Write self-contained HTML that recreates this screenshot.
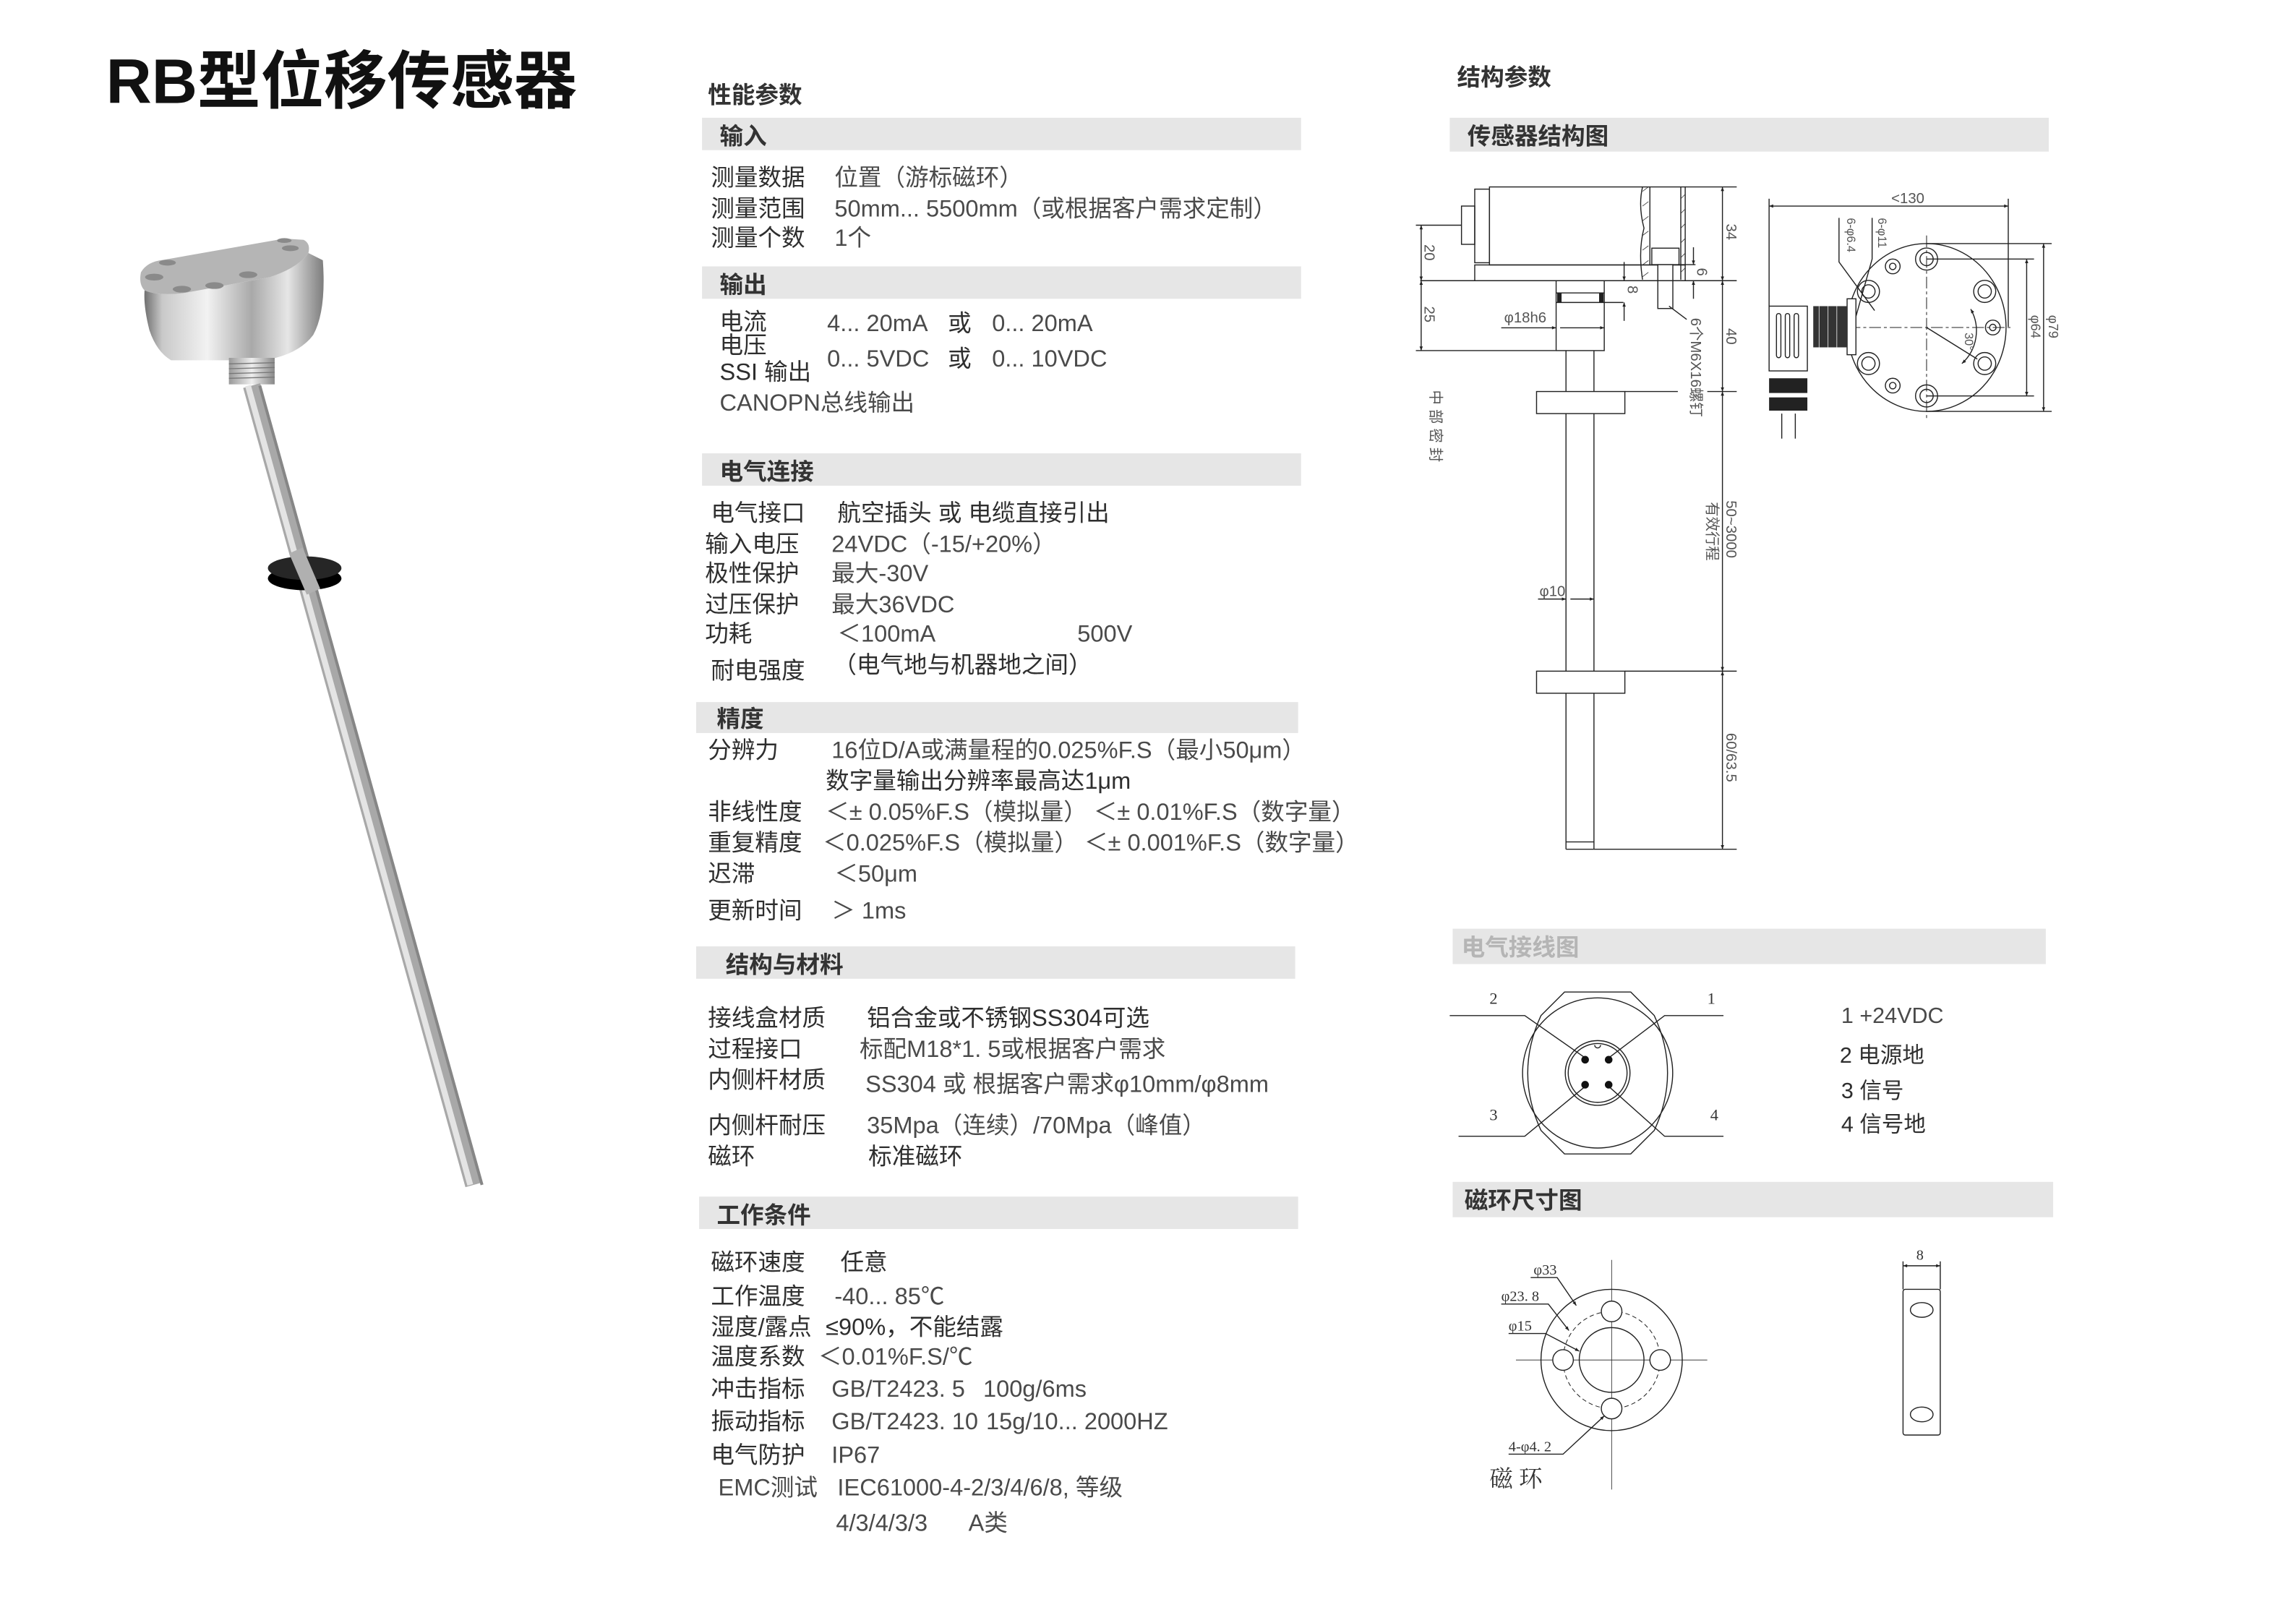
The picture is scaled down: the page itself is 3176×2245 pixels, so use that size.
<!DOCTYPE html>
<html><head><meta charset="utf-8"><style>
html,body{margin:0;padding:0;background:#fff;}
svg{display:block;}
.l{font-family:"Liberation Sans","Noto Sans CJK SC",sans-serif;font-size:16px;fill:#2e2e2e;}
.v{font-family:"Liberation Sans","Noto Sans CJK SC",sans-serif;font-size:16px;fill:#4a4a4a;}
.h{font-family:"Liberation Sans","Noto Sans CJK SC",sans-serif;font-size:16px;font-weight:bold;fill:#333;}
.d{font-family:"Liberation Sans","Noto Sans CJK SC",sans-serif;font-size:10px;fill:#555;}
.s{font-family:"Liberation Serif","Noto Serif CJK SC",serif;font-size:11px;fill:#333;}
</style></head><body>
<svg width="3176" height="2245" viewBox="0 0 1560 1102.7" xmlns="http://www.w3.org/2000/svg">
<defs>
<marker id="ar" viewBox="0 0 10 10" refX="10" refY="5" markerWidth="6" markerHeight="4" orient="auto-start-reverse"><path d="M0,1L10,5L0,9Z" fill="#222"/></marker>
<linearGradient id="hg" x1="0" y1="0" x2="1" y2="0"><stop offset="0" stop-color="#6f6f6f"/><stop offset="0.1" stop-color="#c9c9c9"/><stop offset="0.35" stop-color="#f2f2f2"/><stop offset="0.6" stop-color="#a9a9a9"/><stop offset="0.8" stop-color="#e6e6e6"/><stop offset="1" stop-color="#7d7d7d"/></linearGradient>
<linearGradient id="tg" x1="0" y1="0" x2="1" y2="0"><stop offset="0" stop-color="#999"/><stop offset="0.5" stop-color="#eee"/><stop offset="1" stop-color="#888"/></linearGradient>
</defs>

<text x="72" y="70" style="font-family:'Liberation Sans','Noto Sans CJK SC',sans-serif;font-size:43px;font-weight:bold;fill:#111">RB型位移传感器</text>

<!-- Sensor photo -->
<g transform="translate(88.4,162.1) scale(0.1637)">
<path d="M60,215 Q120,240 230,225 L580,160 Q700,120 740,60 L800,90 Q815,300 760,400 Q700,480 560,505 L170,505 Q110,470 80,380 Q55,280 60,215 Z" fill="url(#hg)"/>
<path d="M45,140 Q70,95 140,88 L640,0 L720,5 Q750,20 740,60 Q700,120 580,160 L230,225 Q120,240 60,215 Q35,190 45,140 Z" fill="#b5b5b5"/>
<g fill="#8a8a8a"><ellipse cx="100" cy="160" rx="38" ry="14"/><ellipse cx="155" cy="100" rx="35" ry="12"/><ellipse cx="215" cy="210" rx="38" ry="14"/><ellipse cx="350" cy="195" rx="38" ry="14"/><ellipse cx="490" cy="150" rx="38" ry="14"/><ellipse cx="640" cy="8" rx="30" ry="10"/><ellipse cx="665" cy="40" rx="35" ry="12"/></g>
<rect x="410" y="495" width="190" height="110" fill="url(#tg)"/>
<g stroke="#777" stroke-width="4"><line x1="410" y1="520" x2="600" y2="515"/><line x1="410" y1="540" x2="600" y2="535"/><line x1="410" y1="560" x2="600" y2="555"/><line x1="410" y1="580" x2="600" y2="575"/></g>
</g>
<line x1="171" y1="262" x2="322" y2="805" stroke="#a8a8a8" stroke-width="12"/>
<line x1="168.5" y1="262" x2="319.5" y2="805" stroke="#e4e4e4" stroke-width="4"/>
<line x1="176.5" y1="262" x2="327.5" y2="805" stroke="#868686" stroke-width="2"/>
<ellipse cx="207" cy="393" rx="25" ry="8" fill="#000"/>
<ellipse cx="207" cy="386" rx="25" ry="8" fill="#262626"/>
<line x1="201" y1="374" x2="213" y2="402" stroke="#b0b0b0" stroke-width="10"/>

<!-- Left spec column -->
<text x="481" y="70" class="h">性能参数</text>
<g fill="#e6e6e6">
<rect x="477" y="80" width="407" height="22"/>
<rect x="477" y="181" width="407" height="22"/>
<rect x="477" y="308" width="407" height="22"/>
<rect x="473" y="477" width="409" height="21"/>
<rect x="473" y="643" width="407" height="22"/>
<rect x="475" y="813" width="407" height="22"/>
<rect x="985" y="80" width="407" height="23"/>
<rect x="987" y="631" width="403" height="24"/>
<rect x="987" y="803" width="408" height="24"/>
</g>
<text x="489" y="98" class="h">输入</text>
<text x="483" y="126" class="l">测量数据</text><text x="567" y="126" class="v">位置（游标磁环）</text>
<text x="483" y="147" class="l">测量范围</text><text x="567" y="147" class="v">50mm... 5500mm（或根据客户需求定制）</text>
<text x="483" y="167" class="l">测量个数</text><text x="567" y="167" class="v">1个</text>

<text x="489" y="199" class="h">输出</text>
<text x="489" y="224" class="l">电流</text>
<text x="489" y="240" class="l">电压</text>
<text x="489" y="258" class="l">SSI 输出</text>
<text x="489" y="279" class="v">CANOPN总线输出</text>
<text x="562" y="225" class="v">4... 20mA</text><text x="644" y="225" class="l">或</text><text x="674" y="225" class="v">0... 20mA</text>
<text x="562" y="249" class="v">0... 5VDC</text><text x="644" y="249" class="l">或</text><text x="674" y="249" class="v">0... 10VDC</text>

<text x="489" y="326" class="h">电气连接</text>
<text x="483" y="354" class="l">电气接口</text><text x="569" y="354" class="l">航空插头 或 电缆直接引出</text>
<text x="479" y="375" class="l">输入电压</text><text x="565" y="375" class="v">24VDC（-15/+20%）</text>
<text x="479" y="395" class="l">极性保护</text><text x="565" y="395" class="v">最大-30V</text>
<text x="479" y="416" class="l">过压保护</text><text x="565" y="416" class="v">最大36VDC</text>
<text x="479" y="436" class="l">功耗</text><text x="569" y="436" class="v">＜100mA</text><text x="732" y="436" class="v">500V</text>
<text x="483" y="461" class="l">耐电强度</text><text x="566" y="457" class="l">（电气地与机器地之间）</text>

<text x="487" y="494" class="h">精度</text>
<text x="481" y="515" class="l">分辨力</text><text x="565" y="515" class="v">16位D/A或满量程的0.025%F.S（最小50μm）</text>
<text x="561" y="536" class="l">数字量输出分辨率最高达1μm</text>
<text x="481" y="557" class="l">非线性度</text><text x="561" y="557" class="v">＜± 0.05%F.S（模拟量） ＜± 0.01%F.S（数字量）</text>
<text x="481" y="578" class="l">重复精度</text><text x="559" y="578" class="v">＜0.025%F.S（模拟量） ＜± 0.001%F.S（数字量）</text>
<text x="481" y="599" class="l">迟滞</text><text x="567" y="599" class="v">＜50μm</text>
<text x="481" y="624" class="l">更新时间</text><text x="565" y="624" class="v">＞ 1ms</text>

<text x="493" y="661" class="h">结构与材料</text>
<text x="481" y="697" class="l">接线盒材质</text><text x="589" y="697" class="l">铝合金或不锈钢SS304可选</text>
<text x="481" y="718" class="l">过程接口</text><text x="584" y="718" class="v">标配M18*1. 5或根据客户需求</text>
<text x="481" y="739" class="l">内侧杆材质</text><text x="588" y="742" class="v">SS304 或 根据客户需求φ10mm/φ8mm</text>
<text x="481" y="770" class="l">内侧杆耐压</text><text x="589" y="770" class="v">35Mpa（连续）/70Mpa（峰值）</text>
<text x="481" y="791" class="l">磁环</text><text x="590" y="791" class="l">标准磁环</text>

<text x="487" y="831" class="h">工作条件</text>
<text x="483" y="863" class="l">磁环速度</text><text x="571" y="863" class="l">任意</text>
<text x="483" y="886" class="l">工作温度</text><text x="567" y="886" class="v">-40... 85℃</text>
<text x="483" y="907" class="l">湿度/露点</text><text x="561" y="907" class="l">≤90%，不能结露</text>
<text x="483" y="927" class="l">温度系数</text><text x="556" y="927" class="v">＜0.01%F.S/℃</text>
<text x="483" y="949" class="l">冲击指标</text><text x="565" y="949" class="v">GB/T2423. 5</text><text x="668" y="949" class="v">100g/6ms</text>
<text x="483" y="971" class="l">振动指标</text><text x="565" y="971" class="v">GB/T2423. 10</text><text x="670" y="971" class="v">15g/10... 2000HZ</text>
<text x="483" y="994" class="l">电气防护</text><text x="565" y="994" class="v">IP67</text>
<text x="488" y="1016" class="v">EMC测试</text><text x="569" y="1016" class="v">IEC61000-4-2/3/4/6/8, 等级</text>
<text x="568" y="1040" class="v">4/3/4/3/3</text><text x="658" y="1040" class="v">A类</text>

<text x="990" y="58" class="h">结构参数</text>
<text x="997" y="98" class="h">传感器结构图</text>
<text x="993" y="649" class="h" style="fill:#b5b5b5">电气接线图</text>
<text x="995" y="821" class="h">磁环尺寸图</text>

<!-- Structure drawing -->
<g fill="none" stroke="#222" stroke-width="0.7">
<rect x="993" y="140" width="9" height="26"/>
<rect x="1002" y="128.5" width="10" height="50"/>
<rect x="1012" y="127" width="133" height="53"/>
<rect x="1002" y="180" width="143" height="10.7"/>
<path d="M1116,127 Q1113,140 1117,155 Q1113,170 1116,190"/>
<line x1="1121" y1="127" x2="1121" y2="180"/>
<line x1="1142" y1="127" x2="1142" y2="190"/>
<rect x="1122.3" y="168.6" width="18.5" height="11.2"/>
<rect x="1126.4" y="179.8" width="10.2" height="29.8" fill="#fff"/>
<rect x="1057.3" y="190.7" width="32.7" height="47.5"/>
<line x1="1057.3" y1="205.5" x2="1103" y2="205.5"/>
<line x1="1057.3" y1="199" x2="1090" y2="199"/>
<line x1="1064" y1="238" x2="1064" y2="577"/>
<line x1="1083" y1="238" x2="1083" y2="577"/>
<line x1="1064" y1="572" x2="1083" y2="572"/>
<line x1="1064" y1="577" x2="1083" y2="577"/>
<rect x="1044" y="266" width="60" height="15" fill="#fff"/>
<rect x="1044" y="456" width="60" height="15" fill="#fff"/>
<line x1="1145" y1="127" x2="1180" y2="127"/>
<line x1="965" y1="190.7" x2="1180" y2="190.7"/>
<line x1="962" y1="153" x2="993" y2="153"/>
<line x1="962" y1="238.2" x2="1057" y2="238.2"/>
<line x1="1104" y1="266" x2="1140" y2="266"/>
<line x1="1160" y1="266" x2="1180" y2="266"/>
<line x1="1104" y1="456" x2="1180" y2="456"/>
<line x1="1083" y1="577" x2="1180" y2="577"/>
<line x1="1140" y1="179.8" x2="1152" y2="179.8"/>
<line x1="1170.3" y1="127" x2="1170.3" y2="190.7" marker-start="url(#ar)" marker-end="url(#ar)"/>
<line x1="1170.3" y1="190.7" x2="1170.3" y2="266" marker-start="url(#ar)" marker-end="url(#ar)"/>
<line x1="1170.3" y1="266" x2="1170.3" y2="456" marker-start="url(#ar)" marker-end="url(#ar)"/>
<line x1="1170.3" y1="456" x2="1170.3" y2="577" marker-start="url(#ar)" marker-end="url(#ar)"/>
<line x1="965.6" y1="153" x2="965.6" y2="190.7" marker-start="url(#ar)" marker-end="url(#ar)"/>
<line x1="965.6" y1="190.7" x2="965.6" y2="238.2" marker-start="url(#ar)" marker-end="url(#ar)"/>
<line x1="1150.6" y1="168" x2="1150.6" y2="179.8" marker-end="url(#ar)"/>
<line x1="1150.6" y1="203" x2="1150.6" y2="190.7" marker-end="url(#ar)"/>
<line x1="1103.5" y1="178" x2="1103.5" y2="190.7" marker-end="url(#ar)"/>
<line x1="1103.5" y1="218" x2="1103.5" y2="205.5" marker-end="url(#ar)"/>
<line x1="1020" y1="222.7" x2="1057.3" y2="222.7" marker-end="url(#ar)"/>
<line x1="1060" y1="222.7" x2="1090" y2="222.7" marker-end="url(#ar)"/>
<line x1="1045" y1="407" x2="1064" y2="407" marker-end="url(#ar)"/>
<line x1="1067" y1="407" x2="1083" y2="407" marker-end="url(#ar)"/>
<line x1="1134" y1="208" x2="1146" y2="217"/>
</g>
<g fill="#222"><rect x="1058" y="199" width="3" height="6.5"/><rect x="1086.5" y="199" width="3" height="6.5"/></g>
<g stroke="#333" stroke-width="0.4"><path d="M1116,130 l4,-3 M1116,140 l4,-3 M1116,150 l4,-3 M1116,160 l4,-3 M1116,170 l4,-3 M1116,180 l4,-3 M1116,188 l4,-3 M1142,135 l3,-3 M1142,145 l3,-3 M1142,155 l3,-3 M1142,165 l3,-3 M1142,175 l3,-3 M1142,185 l3,-3"/></g>
<text class="d" transform="translate(1173,152) rotate(90)">34</text>
<text class="d" transform="translate(1173,223) rotate(90)">40</text>
<text class="d" transform="translate(1173,340) rotate(90)">50~3000</text>
<text class="d" transform="translate(1160,341) rotate(90)">有效行程</text>
<text class="d" transform="translate(1173,498) rotate(90)">60/63.5</text>
<text class="d" transform="translate(1153,182) rotate(90)">6</text>
<text class="d" transform="translate(1106,194) rotate(90)">8</text>
<text class="d" transform="translate(968,166) rotate(90)">20</text>
<text class="d" transform="translate(968,208) rotate(90)">25</text>
<text class="d" transform="translate(972,265) rotate(90)" style="letter-spacing:3px">中部密封</text>
<text class="d" transform="translate(1149,216) rotate(90)">6个M6X16螺钉</text>
<text class="d" x="1022" y="219">φ18h6</text>
<text class="d" x="1046" y="405">φ10</text>

<!-- Right view -->
<g fill="none" stroke="#222" stroke-width="0.7">
<ellipse cx="1309" cy="222.5" rx="54" ry="57"/>
<g stroke-dasharray="8,2,2,2" stroke-width="0.5"><line x1="1256" y1="222.5" x2="1366" y2="222.5"/><line x1="1309" y1="160" x2="1309" y2="285"/></g>
<circle cx="1309" cy="176" r="7.5"/><circle cx="1309" cy="176" r="4.5"/>
<circle cx="1348.5" cy="198" r="7.5"/><circle cx="1348.5" cy="198" r="4.5"/>
<circle cx="1348.5" cy="247" r="7.5"/><circle cx="1348.5" cy="247" r="4.5"/>
<circle cx="1309" cy="269" r="7.5"/><circle cx="1309" cy="269" r="4.5"/>
<circle cx="1269.5" cy="247" r="7.5"/><circle cx="1269.5" cy="247" r="4.5"/>
<circle cx="1269.5" cy="198" r="7.5"/><circle cx="1269.5" cy="198" r="4.5"/>
<circle cx="1286" cy="181" r="5"/><circle cx="1286" cy="181" r="2.2"/>
<circle cx="1354" cy="222.5" r="5"/><circle cx="1354" cy="222.5" r="2.2"/>
<circle cx="1286" cy="262" r="5"/><circle cx="1286" cy="262" r="2.2"/>
<line x1="1309" y1="222.5" x2="1343.5" y2="244"/>
<path d="M1339,210 A30,30 0 0 1 1333,247" marker-start="url(#ar)" marker-end="url(#ar)"/>
<line x1="1202" y1="135" x2="1202" y2="208"/>
<line x1="1364.5" y1="135" x2="1364.5" y2="222"/>
<line x1="1202" y1="140" x2="1364.5" y2="140" marker-start="url(#ar)" marker-end="url(#ar)"/>
<line x1="1309" y1="176" x2="1382" y2="176"/><line x1="1309" y1="269" x2="1382" y2="269"/>
<line x1="1309" y1="165.5" x2="1394" y2="165.5"/><line x1="1309" y1="279.5" x2="1394" y2="279.5"/>
<line x1="1377" y1="176" x2="1377" y2="269" marker-start="url(#ar)" marker-end="url(#ar)"/>
<line x1="1388.5" y1="165.5" x2="1388.5" y2="279.5" marker-start="url(#ar)" marker-end="url(#ar)"/>
<polyline points="1249.5,148 1249.5,178 1273.7,211"/>
<polyline points="1272,148 1272,176 1261,215"/>
<rect x="1202" y="208" width="26" height="44" fill="#fff"/>
<rect x="1207" y="213" width="3" height="30" rx="1.5"/><rect x="1213" y="213" width="3" height="30" rx="1.5"/><rect x="1219" y="213" width="3" height="30" rx="1.5"/>
<rect x="1255" y="203" width="6" height="38" fill="#fff"/>
<line x1="1210.6" y1="281" x2="1210.6" y2="298"/><line x1="1219.8" y1="281" x2="1219.8" y2="298"/>
</g>
<rect x="1232" y="208" width="23" height="28" fill="#333"/>
<g stroke="#ccc" stroke-width="0.5"><line x1="1236" y1="208" x2="1236" y2="236"/><line x1="1242" y1="208" x2="1242" y2="236"/><line x1="1248" y1="208" x2="1248" y2="236"/></g>
<rect x="1202" y="257" width="26" height="10" fill="#222"/>
<rect x="1202" y="270" width="26" height="9" fill="#222"/>
<text class="d" x="1285" y="138">&lt;130</text>
<text class="d" style="font-size:8px" transform="translate(1255,148) rotate(90)">6-φ6.4</text>
<text class="d" style="font-size:8px" transform="translate(1276,148) rotate(90)">6-φ11</text>
<text class="d" style="font-size:8px" transform="translate(1335,226) rotate(90)">30°</text>
<text class="d" style="font-size:9px" transform="translate(1380,214) rotate(90)">φ64</text>
<text class="d" style="font-size:9px" transform="translate(1392,214) rotate(90)">φ79</text>

<!-- Wiring diagram -->
<g transform="translate(0,-7)">
<g fill="none" stroke="#222" stroke-width="0.7">
<path d="M1063,681 L1108,681 L1124,697 Q1142,736 1124,775 L1108,791 L1063,791 L1047,775 Q1029,736 1047,697 Z"/>
<circle cx="1085.5" cy="736" r="51"/>
<circle cx="1085.5" cy="736" r="22"/>
<circle cx="1085.5" cy="736" r="20"/>
<path d="M1083.5,717 a2,2 0 0 0 4,0"/>
<polyline points="985,697 1036,697 1076,725"/>
<polyline points="1171,697 1131,697 1094,725"/>
<polyline points="991,779 1036,779 1076,746"/>
<polyline points="1171,779 1131,779 1094,746"/>
</g>
<g fill="#111"><circle cx="1077" cy="727" r="2.6"/><circle cx="1093" cy="727" r="2.6"/><circle cx="1077" cy="744" r="2.6"/><circle cx="1093" cy="744" r="2.6"/></g>
<text class="s" x="1012" y="689">2</text><text class="s" x="1160" y="689">1</text>
<text class="s" x="1012" y="768">3</text><text class="s" x="1162" y="768">4</text>
</g>
<text class="v" x="1251" y="695" style="font-size:15px">1  +24VDC</text>
<text class="l" x="1250" y="722" style="font-size:15px">2 电源地</text>
<text class="l" x="1251" y="746" style="font-size:15px">3 信号</text>
<text class="l" x="1251" y="769" style="font-size:15px">4 信号地</text>

<!-- Magnet ring -->
<g fill="none" stroke="#222" stroke-width="0.7">
<g stroke-width="0.4"><line x1="1030" y1="924" x2="1160" y2="924"/><line x1="1095" y1="856" x2="1095" y2="1012"/></g>
<circle cx="1095" cy="924" r="48"/>
<circle cx="1095" cy="924" r="33" stroke-dasharray="3,2" stroke-width="0.5"/>
<circle cx="1095" cy="924" r="22"/>
<circle cx="1095" cy="891" r="7" fill="#fff"/>
<circle cx="1095" cy="957" r="7" fill="#fff"/>
<circle cx="1062" cy="924" r="7" fill="#fff"/>
<circle cx="1128" cy="924" r="7" fill="#fff"/>
<polyline points="1040,868 1058,868 1071,887" marker-end="url(#ar)"/>
<polyline points="1020,886 1052,886 1066,904" marker-end="url(#ar)"/>
<polyline points="1025,906 1050,906 1073,918" marker-end="url(#ar)"/>
<polyline points="1025,988 1062,988 1090,962" marker-end="url(#ar)"/>
</g>
<text class="s" x="1042" y="866" style="font-size:10px">φ33</text>
<text class="s" x="1020" y="884" style="font-size:10px">φ23. 8</text>
<text class="s" x="1025" y="904" style="font-size:10px">φ15</text>
<text class="s" x="1025" y="986" style="font-size:10px">4-φ4. 2</text>
<text class="s" x="1012" y="1010" style="font-size:16px">磁  环</text>
<g fill="none" stroke="#222" stroke-width="0.7">
<rect x="1293" y="876" width="25.3" height="99" rx="1.5"/>
<ellipse cx="1305.7" cy="890" rx="7.7" ry="5"/>
<ellipse cx="1305.7" cy="961" rx="7.7" ry="5"/>
<line x1="1293" y1="857" x2="1293" y2="876"/><line x1="1318.3" y1="857" x2="1318.3" y2="876"/>
<line x1="1293" y1="860" x2="1318.3" y2="860" marker-start="url(#ar)" marker-end="url(#ar)"/>
</g>
<text class="s" x="1302" y="856" style="font-size:10px">8</text>
</svg>
</body></html>
